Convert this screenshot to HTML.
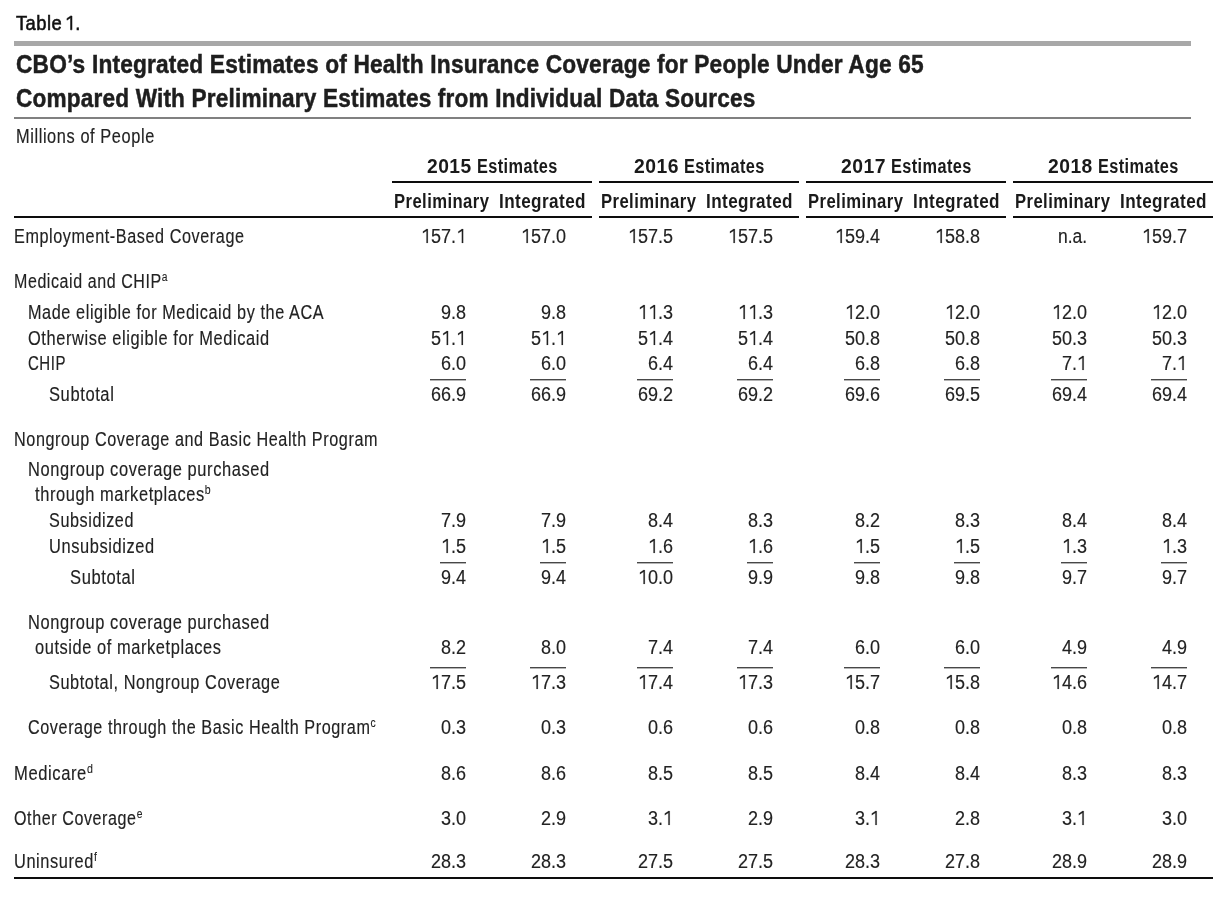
<!DOCTYPE html>
<html><head><meta charset="utf-8"><title>Table 1</title><style>
html,body{margin:0;padding:0;background:#fff;}
body{filter:grayscale(100%);}
body{width:1232px;height:897px;position:relative;overflow:hidden;}
.r{position:absolute;}
.t{position:absolute;white-space:nowrap;font-family:"Liberation Sans",sans-serif;line-height:normal;transform-origin:0 0;-webkit-text-stroke:0.15px;}
.lbl{font-size:21.0px;color:#111;font-weight:400;letter-spacing:0.5px;-webkit-text-stroke:0.6px;}
.ttl{font-size:26.0px;color:#1e1e1e;font-weight:700;letter-spacing:0.2px;-webkit-text-stroke:0.5px;}
.reg{font-size:19.5px;color:#222;font-weight:400;letter-spacing:0.7px;}
.hdr{font-size:20.0px;color:#1a1a1a;font-weight:700;letter-spacing:0.5px;-webkit-text-stroke:0.0px;}
.num{font-size:19.4px;color:#222;font-weight:400;letter-spacing:0px;}
.one{width:0.5562em;height:0.72em;vertical-align:0.02em;fill:currentColor;stroke:currentColor;overflow:visible;}
.sup{display:inline-block;font-size:12.5px;position:relative;top:-7px;margin-left:0px;-webkit-text-stroke:0.1px;letter-spacing:0;transform:scaleX(1.0);transform-origin:0 0;}
</style></head>
<body>
<div class="t lbl" style="left:15.96px;top:11.00px;transform:scaleX(0.8740)">Table</div>
<div class="t lbl" style="left:65.04px;top:11.00px;transform:scaleX(0.8734)"><svg class="one" style="height:0.66em;vertical-align:0.01em" viewBox="0 0 1139 1409" preserveAspectRatio="none"><path d="M620 1409V190L219 420V250L635 0H780V1409Z" stroke-width="58.5"/></svg>.</div>
<div class="r" style="left:14px;top:41px;width:1177px;height:5px;background:#a8a8a8"></div>
<div class="t ttl" style="left:15.94px;top:49.00px;transform:scaleX(0.8732)">CBO’s Integrated Estimates of Health Insurance Coverage for People Under Age 65</div>
<div class="t ttl" style="left:15.94px;top:83.00px;transform:scaleX(0.8694)">Compared With Preliminary Estimates from Individual Data Sources</div>
<div class="r" style="left:14px;top:117px;width:1177px;height:2px;background:#808080"></div>
<div class="t reg" style="left:15.66px;top:125.00px;transform:scaleX(0.8392)">Millions of People</div>
<div class="t hdr" style="left:427.03px;top:155.00px;transform:scaleX(0.9621)">2015</div>
<div class="t hdr" style="left:476.64px;top:155.00px;transform:scaleX(0.8154)">Estimates</div>
<div class="r" style="left:392px;top:181px;width:200px;height:2px;background:#0d0d0d"></div>
<div class="t hdr" style="left:394.42px;top:190.00px;transform:scaleX(0.8329)">Preliminary</div>
<div class="t hdr" style="left:498.59px;top:190.00px;transform:scaleX(0.8550)">Integrated</div>
<div class="t hdr" style="left:634.02px;top:155.00px;transform:scaleX(0.9664)">2016</div>
<div class="t hdr" style="left:683.64px;top:155.00px;transform:scaleX(0.8154)">Estimates</div>
<div class="r" style="left:599px;top:181px;width:200px;height:2px;background:#0d0d0d"></div>
<div class="t hdr" style="left:601.42px;top:190.00px;transform:scaleX(0.8329)">Preliminary</div>
<div class="t hdr" style="left:705.59px;top:190.00px;transform:scaleX(0.8550)">Integrated</div>
<div class="t hdr" style="left:841.02px;top:155.00px;transform:scaleX(0.9685)">2017</div>
<div class="t hdr" style="left:890.64px;top:155.00px;transform:scaleX(0.8154)">Estimates</div>
<div class="r" style="left:806px;top:181px;width:200px;height:2px;background:#0d0d0d"></div>
<div class="t hdr" style="left:808.42px;top:190.00px;transform:scaleX(0.8329)">Preliminary</div>
<div class="t hdr" style="left:912.59px;top:190.00px;transform:scaleX(0.8550)">Integrated</div>
<div class="t hdr" style="left:1048.03px;top:155.00px;transform:scaleX(0.9642)">2018</div>
<div class="t hdr" style="left:1097.64px;top:155.00px;transform:scaleX(0.8154)">Estimates</div>
<div class="r" style="left:1013px;top:181px;width:200px;height:2px;background:#0d0d0d"></div>
<div class="t hdr" style="left:1015.42px;top:190.00px;transform:scaleX(0.8329)">Preliminary</div>
<div class="t hdr" style="left:1119.59px;top:190.00px;transform:scaleX(0.8550)">Integrated</div>
<div class="r" style="left:14px;top:216px;width:578px;height:2px;background:#0d0d0d"></div>
<div class="r" style="left:599px;top:216px;width:200px;height:2px;background:#0d0d0d"></div>
<div class="r" style="left:806px;top:216px;width:200px;height:2px;background:#0d0d0d"></div>
<div class="r" style="left:1013px;top:216px;width:200px;height:2px;background:#0d0d0d"></div>
<div class="r" style="left:14px;top:877px;width:1199px;height:2px;background:#0d0d0d"></div>
<div class="t reg" style="left:13.87px;top:225.00px;transform:scaleX(0.8306)">Employment-Based Coverage</div>
<div class="t reg" style="left:13.79px;top:270.00px;transform:scaleX(0.8211)">Medicaid and CHIP<span class="sup">a</span></div>
<div class="t reg" style="left:27.77px;top:301.00px;transform:scaleX(0.8332)">Made eligible for Medicaid by the ACA</div>
<div class="t reg" style="left:28.34px;top:327.00px;transform:scaleX(0.8414)">Otherwise eligible for Medicaid</div>
<div class="t reg" style="left:28.33px;top:352.00px;transform:scaleX(0.7687)">CHIP</div>
<div class="t reg" style="left:49.04px;top:383.00px;transform:scaleX(0.8477)">Subtotal</div>
<div class="t reg" style="left:13.77px;top:428.00px;transform:scaleX(0.8311)">Nongroup Coverage and Basic Health Program</div>
<div class="t reg" style="left:27.75px;top:458.00px;transform:scaleX(0.8432)">Nongroup coverage purchased</div>
<div class="t reg" style="left:35.15px;top:483.00px;transform:scaleX(0.8429)">through marketplaces<span class="sup">b</span></div>
<div class="t reg" style="left:49.05px;top:509.00px;transform:scaleX(0.8303)">Subsidized</div>
<div class="t reg" style="left:48.64px;top:535.00px;transform:scaleX(0.8418)">Unsubsidized</div>
<div class="t reg" style="left:70.04px;top:566.00px;transform:scaleX(0.8491)">Subtotal</div>
<div class="t reg" style="left:27.75px;top:611.00px;transform:scaleX(0.8432)">Nongroup coverage purchased</div>
<div class="t reg" style="left:35.33px;top:636.00px;transform:scaleX(0.8404)">outside of marketplaces</div>
<div class="t reg" style="left:49.05px;top:671.00px;transform:scaleX(0.8357)">Subtotal, Nongroup Coverage</div>
<div class="t reg" style="left:28.27px;top:716.00px;transform:scaleX(0.8305)">Coverage through the Basic Health Program<span class="sup">c</span></div>
<div class="t reg" style="left:13.74px;top:762.00px;transform:scaleX(0.8501)">Medicare<span class="sup">d</span></div>
<div class="t reg" style="left:14.36px;top:807.00px;transform:scaleX(0.8255)">Other Coverage<span class="sup">e</span></div>
<div class="t reg" style="left:13.84px;top:850.00px;transform:scaleX(0.8397)">Uninsured<span class="sup">f</span></div>
<div class="t num" style="left:420.64px;top:225.00px;transform:scaleX(0.9300)"><svg class="one" style="height:0.72em;vertical-align:0.02em" viewBox="0 0 1139 1409" preserveAspectRatio="none"><path d="M620 1409V190L219 420V250L635 0H780V1409Z" stroke-width="15.8"/></svg>57.<svg class="one" style="height:0.72em;vertical-align:0.02em" viewBox="0 0 1139 1409" preserveAspectRatio="none"><path d="M620 1409V190L219 420V250L635 0H780V1409Z" stroke-width="15.8"/></svg></div>
<div class="t num" style="left:520.64px;top:225.00px;transform:scaleX(0.9300)"><svg class="one" style="height:0.72em;vertical-align:0.02em" viewBox="0 0 1139 1409" preserveAspectRatio="none"><path d="M620 1409V190L219 420V250L635 0H780V1409Z" stroke-width="15.8"/></svg>57.0</div>
<div class="t num" style="left:627.64px;top:225.00px;transform:scaleX(0.9300)"><svg class="one" style="height:0.72em;vertical-align:0.02em" viewBox="0 0 1139 1409" preserveAspectRatio="none"><path d="M620 1409V190L219 420V250L635 0H780V1409Z" stroke-width="15.8"/></svg>57.5</div>
<div class="t num" style="left:727.64px;top:225.00px;transform:scaleX(0.9300)"><svg class="one" style="height:0.72em;vertical-align:0.02em" viewBox="0 0 1139 1409" preserveAspectRatio="none"><path d="M620 1409V190L219 420V250L635 0H780V1409Z" stroke-width="15.8"/></svg>57.5</div>
<div class="t num" style="left:834.64px;top:225.00px;transform:scaleX(0.9300)"><svg class="one" style="height:0.72em;vertical-align:0.02em" viewBox="0 0 1139 1409" preserveAspectRatio="none"><path d="M620 1409V190L219 420V250L635 0H780V1409Z" stroke-width="15.8"/></svg>59.4</div>
<div class="t num" style="left:934.64px;top:225.00px;transform:scaleX(0.9300)"><svg class="one" style="height:0.72em;vertical-align:0.02em" viewBox="0 0 1139 1409" preserveAspectRatio="none"><path d="M620 1409V190L219 420V250L635 0H780V1409Z" stroke-width="15.8"/></svg>58.8</div>
<div class="t num" style="left:1057.73px;top:225.00px;transform:scaleX(0.9010)">n.a.</div>
<div class="t num" style="left:1141.64px;top:225.00px;transform:scaleX(0.9300)"><svg class="one" style="height:0.72em;vertical-align:0.02em" viewBox="0 0 1139 1409" preserveAspectRatio="none"><path d="M620 1409V190L219 420V250L635 0H780V1409Z" stroke-width="15.8"/></svg>59.7</div>
<div class="t num" style="left:440.71px;top:301.00px;transform:scaleX(0.9300)">9.8</div>
<div class="t num" style="left:540.71px;top:301.00px;transform:scaleX(0.9300)">9.8</div>
<div class="t num" style="left:637.67px;top:301.00px;transform:scaleX(0.9300)"><svg class="one" style="height:0.72em;vertical-align:0.02em" viewBox="0 0 1139 1409" preserveAspectRatio="none"><path d="M620 1409V190L219 420V250L635 0H780V1409Z" stroke-width="15.8"/></svg><svg class="one" style="height:0.72em;vertical-align:0.02em" viewBox="0 0 1139 1409" preserveAspectRatio="none"><path d="M620 1409V190L219 420V250L635 0H780V1409Z" stroke-width="15.8"/></svg>.3</div>
<div class="t num" style="left:737.67px;top:301.00px;transform:scaleX(0.9300)"><svg class="one" style="height:0.72em;vertical-align:0.02em" viewBox="0 0 1139 1409" preserveAspectRatio="none"><path d="M620 1409V190L219 420V250L635 0H780V1409Z" stroke-width="15.8"/></svg><svg class="one" style="height:0.72em;vertical-align:0.02em" viewBox="0 0 1139 1409" preserveAspectRatio="none"><path d="M620 1409V190L219 420V250L635 0H780V1409Z" stroke-width="15.8"/></svg>.3</div>
<div class="t num" style="left:844.67px;top:301.00px;transform:scaleX(0.9300)"><svg class="one" style="height:0.72em;vertical-align:0.02em" viewBox="0 0 1139 1409" preserveAspectRatio="none"><path d="M620 1409V190L219 420V250L635 0H780V1409Z" stroke-width="15.8"/></svg>2.0</div>
<div class="t num" style="left:944.67px;top:301.00px;transform:scaleX(0.9300)"><svg class="one" style="height:0.72em;vertical-align:0.02em" viewBox="0 0 1139 1409" preserveAspectRatio="none"><path d="M620 1409V190L219 420V250L635 0H780V1409Z" stroke-width="15.8"/></svg>2.0</div>
<div class="t num" style="left:1051.67px;top:301.00px;transform:scaleX(0.9300)"><svg class="one" style="height:0.72em;vertical-align:0.02em" viewBox="0 0 1139 1409" preserveAspectRatio="none"><path d="M620 1409V190L219 420V250L635 0H780V1409Z" stroke-width="15.8"/></svg>2.0</div>
<div class="t num" style="left:1151.67px;top:301.00px;transform:scaleX(0.9300)"><svg class="one" style="height:0.72em;vertical-align:0.02em" viewBox="0 0 1139 1409" preserveAspectRatio="none"><path d="M620 1409V190L219 420V250L635 0H780V1409Z" stroke-width="15.8"/></svg>2.0</div>
<div class="t num" style="left:430.67px;top:327.00px;transform:scaleX(0.9300)">5<svg class="one" style="height:0.72em;vertical-align:0.02em" viewBox="0 0 1139 1409" preserveAspectRatio="none"><path d="M620 1409V190L219 420V250L635 0H780V1409Z" stroke-width="15.8"/></svg>.<svg class="one" style="height:0.72em;vertical-align:0.02em" viewBox="0 0 1139 1409" preserveAspectRatio="none"><path d="M620 1409V190L219 420V250L635 0H780V1409Z" stroke-width="15.8"/></svg></div>
<div class="t num" style="left:530.67px;top:327.00px;transform:scaleX(0.9300)">5<svg class="one" style="height:0.72em;vertical-align:0.02em" viewBox="0 0 1139 1409" preserveAspectRatio="none"><path d="M620 1409V190L219 420V250L635 0H780V1409Z" stroke-width="15.8"/></svg>.<svg class="one" style="height:0.72em;vertical-align:0.02em" viewBox="0 0 1139 1409" preserveAspectRatio="none"><path d="M620 1409V190L219 420V250L635 0H780V1409Z" stroke-width="15.8"/></svg></div>
<div class="t num" style="left:637.67px;top:327.00px;transform:scaleX(0.9300)">5<svg class="one" style="height:0.72em;vertical-align:0.02em" viewBox="0 0 1139 1409" preserveAspectRatio="none"><path d="M620 1409V190L219 420V250L635 0H780V1409Z" stroke-width="15.8"/></svg>.4</div>
<div class="t num" style="left:737.67px;top:327.00px;transform:scaleX(0.9300)">5<svg class="one" style="height:0.72em;vertical-align:0.02em" viewBox="0 0 1139 1409" preserveAspectRatio="none"><path d="M620 1409V190L219 420V250L635 0H780V1409Z" stroke-width="15.8"/></svg>.4</div>
<div class="t num" style="left:844.67px;top:327.00px;transform:scaleX(0.9300)">50.8</div>
<div class="t num" style="left:944.67px;top:327.00px;transform:scaleX(0.9300)">50.8</div>
<div class="t num" style="left:1051.67px;top:327.00px;transform:scaleX(0.9300)">50.3</div>
<div class="t num" style="left:1151.67px;top:327.00px;transform:scaleX(0.9300)">50.3</div>
<div class="t num" style="left:440.71px;top:352.00px;transform:scaleX(0.9300)">6.0</div>
<div class="t num" style="left:540.71px;top:352.00px;transform:scaleX(0.9300)">6.0</div>
<div class="t num" style="left:647.71px;top:352.00px;transform:scaleX(0.9300)">6.4</div>
<div class="t num" style="left:747.71px;top:352.00px;transform:scaleX(0.9300)">6.4</div>
<div class="t num" style="left:854.71px;top:352.00px;transform:scaleX(0.9300)">6.8</div>
<div class="t num" style="left:954.71px;top:352.00px;transform:scaleX(0.9300)">6.8</div>
<div class="t num" style="left:1061.71px;top:352.00px;transform:scaleX(0.9300)">7.<svg class="one" style="height:0.72em;vertical-align:0.02em" viewBox="0 0 1139 1409" preserveAspectRatio="none"><path d="M620 1409V190L219 420V250L635 0H780V1409Z" stroke-width="15.8"/></svg></div>
<div class="t num" style="left:1161.71px;top:352.00px;transform:scaleX(0.9300)">7.<svg class="one" style="height:0.72em;vertical-align:0.02em" viewBox="0 0 1139 1409" preserveAspectRatio="none"><path d="M620 1409V190L219 420V250L635 0H780V1409Z" stroke-width="15.8"/></svg></div>
<div class="t num" style="left:430.67px;top:383.00px;transform:scaleX(0.9300)">66.9</div>
<div class="r" style="left:429.90px;top:379px;width:36.50px;height:1px;background:#484848"></div>
<div class="r" style="left:429.90px;top:380px;width:36.50px;height:1px;background:#b4b4b4"></div>
<div class="t num" style="left:530.67px;top:383.00px;transform:scaleX(0.9300)">66.9</div>
<div class="r" style="left:529.90px;top:379px;width:36.50px;height:1px;background:#484848"></div>
<div class="r" style="left:529.90px;top:380px;width:36.50px;height:1px;background:#b4b4b4"></div>
<div class="t num" style="left:637.67px;top:383.00px;transform:scaleX(0.9300)">69.2</div>
<div class="r" style="left:636.90px;top:379px;width:36.50px;height:1px;background:#484848"></div>
<div class="r" style="left:636.90px;top:380px;width:36.50px;height:1px;background:#b4b4b4"></div>
<div class="t num" style="left:737.67px;top:383.00px;transform:scaleX(0.9300)">69.2</div>
<div class="r" style="left:736.90px;top:379px;width:36.50px;height:1px;background:#484848"></div>
<div class="r" style="left:736.90px;top:380px;width:36.50px;height:1px;background:#b4b4b4"></div>
<div class="t num" style="left:844.67px;top:383.00px;transform:scaleX(0.9300)">69.6</div>
<div class="r" style="left:843.90px;top:379px;width:36.50px;height:1px;background:#484848"></div>
<div class="r" style="left:843.90px;top:380px;width:36.50px;height:1px;background:#b4b4b4"></div>
<div class="t num" style="left:944.67px;top:383.00px;transform:scaleX(0.9300)">69.5</div>
<div class="r" style="left:943.90px;top:379px;width:36.50px;height:1px;background:#484848"></div>
<div class="r" style="left:943.90px;top:380px;width:36.50px;height:1px;background:#b4b4b4"></div>
<div class="t num" style="left:1051.67px;top:383.00px;transform:scaleX(0.9300)">69.4</div>
<div class="r" style="left:1050.90px;top:379px;width:36.50px;height:1px;background:#484848"></div>
<div class="r" style="left:1050.90px;top:380px;width:36.50px;height:1px;background:#b4b4b4"></div>
<div class="t num" style="left:1151.67px;top:383.00px;transform:scaleX(0.9300)">69.4</div>
<div class="r" style="left:1150.90px;top:379px;width:36.50px;height:1px;background:#484848"></div>
<div class="r" style="left:1150.90px;top:380px;width:36.50px;height:1px;background:#b4b4b4"></div>
<div class="t num" style="left:440.71px;top:509.00px;transform:scaleX(0.9300)">7.9</div>
<div class="t num" style="left:540.71px;top:509.00px;transform:scaleX(0.9300)">7.9</div>
<div class="t num" style="left:647.71px;top:509.00px;transform:scaleX(0.9300)">8.4</div>
<div class="t num" style="left:747.71px;top:509.00px;transform:scaleX(0.9300)">8.3</div>
<div class="t num" style="left:854.71px;top:509.00px;transform:scaleX(0.9300)">8.2</div>
<div class="t num" style="left:954.71px;top:509.00px;transform:scaleX(0.9300)">8.3</div>
<div class="t num" style="left:1061.71px;top:509.00px;transform:scaleX(0.9300)">8.4</div>
<div class="t num" style="left:1161.71px;top:509.00px;transform:scaleX(0.9300)">8.4</div>
<div class="t num" style="left:440.71px;top:535.00px;transform:scaleX(0.9300)"><svg class="one" style="height:0.72em;vertical-align:0.02em" viewBox="0 0 1139 1409" preserveAspectRatio="none"><path d="M620 1409V190L219 420V250L635 0H780V1409Z" stroke-width="15.8"/></svg>.5</div>
<div class="t num" style="left:540.71px;top:535.00px;transform:scaleX(0.9300)"><svg class="one" style="height:0.72em;vertical-align:0.02em" viewBox="0 0 1139 1409" preserveAspectRatio="none"><path d="M620 1409V190L219 420V250L635 0H780V1409Z" stroke-width="15.8"/></svg>.5</div>
<div class="t num" style="left:647.71px;top:535.00px;transform:scaleX(0.9300)"><svg class="one" style="height:0.72em;vertical-align:0.02em" viewBox="0 0 1139 1409" preserveAspectRatio="none"><path d="M620 1409V190L219 420V250L635 0H780V1409Z" stroke-width="15.8"/></svg>.6</div>
<div class="t num" style="left:747.71px;top:535.00px;transform:scaleX(0.9300)"><svg class="one" style="height:0.72em;vertical-align:0.02em" viewBox="0 0 1139 1409" preserveAspectRatio="none"><path d="M620 1409V190L219 420V250L635 0H780V1409Z" stroke-width="15.8"/></svg>.6</div>
<div class="t num" style="left:854.71px;top:535.00px;transform:scaleX(0.9300)"><svg class="one" style="height:0.72em;vertical-align:0.02em" viewBox="0 0 1139 1409" preserveAspectRatio="none"><path d="M620 1409V190L219 420V250L635 0H780V1409Z" stroke-width="15.8"/></svg>.5</div>
<div class="t num" style="left:954.71px;top:535.00px;transform:scaleX(0.9300)"><svg class="one" style="height:0.72em;vertical-align:0.02em" viewBox="0 0 1139 1409" preserveAspectRatio="none"><path d="M620 1409V190L219 420V250L635 0H780V1409Z" stroke-width="15.8"/></svg>.5</div>
<div class="t num" style="left:1061.71px;top:535.00px;transform:scaleX(0.9300)"><svg class="one" style="height:0.72em;vertical-align:0.02em" viewBox="0 0 1139 1409" preserveAspectRatio="none"><path d="M620 1409V190L219 420V250L635 0H780V1409Z" stroke-width="15.8"/></svg>.3</div>
<div class="t num" style="left:1161.71px;top:535.00px;transform:scaleX(0.9300)"><svg class="one" style="height:0.72em;vertical-align:0.02em" viewBox="0 0 1139 1409" preserveAspectRatio="none"><path d="M620 1409V190L219 420V250L635 0H780V1409Z" stroke-width="15.8"/></svg>.3</div>
<div class="t num" style="left:440.71px;top:566.00px;transform:scaleX(0.9300)">9.4</div>
<div class="r" style="left:440.40px;top:562px;width:26.00px;height:1px;background:#484848"></div>
<div class="r" style="left:440.40px;top:563px;width:26.00px;height:1px;background:#b4b4b4"></div>
<div class="t num" style="left:540.71px;top:566.00px;transform:scaleX(0.9300)">9.4</div>
<div class="r" style="left:540.40px;top:562px;width:26.00px;height:1px;background:#484848"></div>
<div class="r" style="left:540.40px;top:563px;width:26.00px;height:1px;background:#b4b4b4"></div>
<div class="t num" style="left:637.67px;top:566.00px;transform:scaleX(0.9300)"><svg class="one" style="height:0.72em;vertical-align:0.02em" viewBox="0 0 1139 1409" preserveAspectRatio="none"><path d="M620 1409V190L219 420V250L635 0H780V1409Z" stroke-width="15.8"/></svg>0.0</div>
<div class="r" style="left:636.90px;top:562px;width:36.50px;height:1px;background:#484848"></div>
<div class="r" style="left:636.90px;top:563px;width:36.50px;height:1px;background:#b4b4b4"></div>
<div class="t num" style="left:747.71px;top:566.00px;transform:scaleX(0.9300)">9.9</div>
<div class="r" style="left:747.40px;top:562px;width:26.00px;height:1px;background:#484848"></div>
<div class="r" style="left:747.40px;top:563px;width:26.00px;height:1px;background:#b4b4b4"></div>
<div class="t num" style="left:854.71px;top:566.00px;transform:scaleX(0.9300)">9.8</div>
<div class="r" style="left:854.40px;top:562px;width:26.00px;height:1px;background:#484848"></div>
<div class="r" style="left:854.40px;top:563px;width:26.00px;height:1px;background:#b4b4b4"></div>
<div class="t num" style="left:954.71px;top:566.00px;transform:scaleX(0.9300)">9.8</div>
<div class="r" style="left:954.40px;top:562px;width:26.00px;height:1px;background:#484848"></div>
<div class="r" style="left:954.40px;top:563px;width:26.00px;height:1px;background:#b4b4b4"></div>
<div class="t num" style="left:1061.71px;top:566.00px;transform:scaleX(0.9300)">9.7</div>
<div class="r" style="left:1061.40px;top:562px;width:26.00px;height:1px;background:#484848"></div>
<div class="r" style="left:1061.40px;top:563px;width:26.00px;height:1px;background:#b4b4b4"></div>
<div class="t num" style="left:1161.71px;top:566.00px;transform:scaleX(0.9300)">9.7</div>
<div class="r" style="left:1161.40px;top:562px;width:26.00px;height:1px;background:#484848"></div>
<div class="r" style="left:1161.40px;top:563px;width:26.00px;height:1px;background:#b4b4b4"></div>
<div class="t num" style="left:440.71px;top:636.00px;transform:scaleX(0.9300)">8.2</div>
<div class="t num" style="left:540.71px;top:636.00px;transform:scaleX(0.9300)">8.0</div>
<div class="t num" style="left:647.71px;top:636.00px;transform:scaleX(0.9300)">7.4</div>
<div class="t num" style="left:747.71px;top:636.00px;transform:scaleX(0.9300)">7.4</div>
<div class="t num" style="left:854.71px;top:636.00px;transform:scaleX(0.9300)">6.0</div>
<div class="t num" style="left:954.71px;top:636.00px;transform:scaleX(0.9300)">6.0</div>
<div class="t num" style="left:1061.71px;top:636.00px;transform:scaleX(0.9300)">4.9</div>
<div class="t num" style="left:1161.71px;top:636.00px;transform:scaleX(0.9300)">4.9</div>
<div class="t num" style="left:430.67px;top:671.00px;transform:scaleX(0.9300)"><svg class="one" style="height:0.72em;vertical-align:0.02em" viewBox="0 0 1139 1409" preserveAspectRatio="none"><path d="M620 1409V190L219 420V250L635 0H780V1409Z" stroke-width="15.8"/></svg>7.5</div>
<div class="r" style="left:429.90px;top:667px;width:36.50px;height:1px;background:#484848"></div>
<div class="r" style="left:429.90px;top:668px;width:36.50px;height:1px;background:#b4b4b4"></div>
<div class="t num" style="left:530.67px;top:671.00px;transform:scaleX(0.9300)"><svg class="one" style="height:0.72em;vertical-align:0.02em" viewBox="0 0 1139 1409" preserveAspectRatio="none"><path d="M620 1409V190L219 420V250L635 0H780V1409Z" stroke-width="15.8"/></svg>7.3</div>
<div class="r" style="left:529.90px;top:667px;width:36.50px;height:1px;background:#484848"></div>
<div class="r" style="left:529.90px;top:668px;width:36.50px;height:1px;background:#b4b4b4"></div>
<div class="t num" style="left:637.67px;top:671.00px;transform:scaleX(0.9300)"><svg class="one" style="height:0.72em;vertical-align:0.02em" viewBox="0 0 1139 1409" preserveAspectRatio="none"><path d="M620 1409V190L219 420V250L635 0H780V1409Z" stroke-width="15.8"/></svg>7.4</div>
<div class="r" style="left:636.90px;top:667px;width:36.50px;height:1px;background:#484848"></div>
<div class="r" style="left:636.90px;top:668px;width:36.50px;height:1px;background:#b4b4b4"></div>
<div class="t num" style="left:737.67px;top:671.00px;transform:scaleX(0.9300)"><svg class="one" style="height:0.72em;vertical-align:0.02em" viewBox="0 0 1139 1409" preserveAspectRatio="none"><path d="M620 1409V190L219 420V250L635 0H780V1409Z" stroke-width="15.8"/></svg>7.3</div>
<div class="r" style="left:736.90px;top:667px;width:36.50px;height:1px;background:#484848"></div>
<div class="r" style="left:736.90px;top:668px;width:36.50px;height:1px;background:#b4b4b4"></div>
<div class="t num" style="left:844.67px;top:671.00px;transform:scaleX(0.9300)"><svg class="one" style="height:0.72em;vertical-align:0.02em" viewBox="0 0 1139 1409" preserveAspectRatio="none"><path d="M620 1409V190L219 420V250L635 0H780V1409Z" stroke-width="15.8"/></svg>5.7</div>
<div class="r" style="left:843.90px;top:667px;width:36.50px;height:1px;background:#484848"></div>
<div class="r" style="left:843.90px;top:668px;width:36.50px;height:1px;background:#b4b4b4"></div>
<div class="t num" style="left:944.67px;top:671.00px;transform:scaleX(0.9300)"><svg class="one" style="height:0.72em;vertical-align:0.02em" viewBox="0 0 1139 1409" preserveAspectRatio="none"><path d="M620 1409V190L219 420V250L635 0H780V1409Z" stroke-width="15.8"/></svg>5.8</div>
<div class="r" style="left:943.90px;top:667px;width:36.50px;height:1px;background:#484848"></div>
<div class="r" style="left:943.90px;top:668px;width:36.50px;height:1px;background:#b4b4b4"></div>
<div class="t num" style="left:1051.67px;top:671.00px;transform:scaleX(0.9300)"><svg class="one" style="height:0.72em;vertical-align:0.02em" viewBox="0 0 1139 1409" preserveAspectRatio="none"><path d="M620 1409V190L219 420V250L635 0H780V1409Z" stroke-width="15.8"/></svg>4.6</div>
<div class="r" style="left:1050.90px;top:667px;width:36.50px;height:1px;background:#484848"></div>
<div class="r" style="left:1050.90px;top:668px;width:36.50px;height:1px;background:#b4b4b4"></div>
<div class="t num" style="left:1151.67px;top:671.00px;transform:scaleX(0.9300)"><svg class="one" style="height:0.72em;vertical-align:0.02em" viewBox="0 0 1139 1409" preserveAspectRatio="none"><path d="M620 1409V190L219 420V250L635 0H780V1409Z" stroke-width="15.8"/></svg>4.7</div>
<div class="r" style="left:1150.90px;top:667px;width:36.50px;height:1px;background:#484848"></div>
<div class="r" style="left:1150.90px;top:668px;width:36.50px;height:1px;background:#b4b4b4"></div>
<div class="t num" style="left:440.71px;top:716.00px;transform:scaleX(0.9300)">0.3</div>
<div class="t num" style="left:540.71px;top:716.00px;transform:scaleX(0.9300)">0.3</div>
<div class="t num" style="left:647.71px;top:716.00px;transform:scaleX(0.9300)">0.6</div>
<div class="t num" style="left:747.71px;top:716.00px;transform:scaleX(0.9300)">0.6</div>
<div class="t num" style="left:854.71px;top:716.00px;transform:scaleX(0.9300)">0.8</div>
<div class="t num" style="left:954.71px;top:716.00px;transform:scaleX(0.9300)">0.8</div>
<div class="t num" style="left:1061.71px;top:716.00px;transform:scaleX(0.9300)">0.8</div>
<div class="t num" style="left:1161.71px;top:716.00px;transform:scaleX(0.9300)">0.8</div>
<div class="t num" style="left:440.71px;top:762.00px;transform:scaleX(0.9300)">8.6</div>
<div class="t num" style="left:540.71px;top:762.00px;transform:scaleX(0.9300)">8.6</div>
<div class="t num" style="left:647.71px;top:762.00px;transform:scaleX(0.9300)">8.5</div>
<div class="t num" style="left:747.71px;top:762.00px;transform:scaleX(0.9300)">8.5</div>
<div class="t num" style="left:854.71px;top:762.00px;transform:scaleX(0.9300)">8.4</div>
<div class="t num" style="left:954.71px;top:762.00px;transform:scaleX(0.9300)">8.4</div>
<div class="t num" style="left:1061.71px;top:762.00px;transform:scaleX(0.9300)">8.3</div>
<div class="t num" style="left:1161.71px;top:762.00px;transform:scaleX(0.9300)">8.3</div>
<div class="t num" style="left:440.71px;top:807.00px;transform:scaleX(0.9300)">3.0</div>
<div class="t num" style="left:540.71px;top:807.00px;transform:scaleX(0.9300)">2.9</div>
<div class="t num" style="left:647.71px;top:807.00px;transform:scaleX(0.9300)">3.<svg class="one" style="height:0.72em;vertical-align:0.02em" viewBox="0 0 1139 1409" preserveAspectRatio="none"><path d="M620 1409V190L219 420V250L635 0H780V1409Z" stroke-width="15.8"/></svg></div>
<div class="t num" style="left:747.71px;top:807.00px;transform:scaleX(0.9300)">2.9</div>
<div class="t num" style="left:854.71px;top:807.00px;transform:scaleX(0.9300)">3.<svg class="one" style="height:0.72em;vertical-align:0.02em" viewBox="0 0 1139 1409" preserveAspectRatio="none"><path d="M620 1409V190L219 420V250L635 0H780V1409Z" stroke-width="15.8"/></svg></div>
<div class="t num" style="left:954.71px;top:807.00px;transform:scaleX(0.9300)">2.8</div>
<div class="t num" style="left:1061.71px;top:807.00px;transform:scaleX(0.9300)">3.<svg class="one" style="height:0.72em;vertical-align:0.02em" viewBox="0 0 1139 1409" preserveAspectRatio="none"><path d="M620 1409V190L219 420V250L635 0H780V1409Z" stroke-width="15.8"/></svg></div>
<div class="t num" style="left:1161.71px;top:807.00px;transform:scaleX(0.9300)">3.0</div>
<div class="t num" style="left:430.67px;top:850.00px;transform:scaleX(0.9300)">28.3</div>
<div class="t num" style="left:530.67px;top:850.00px;transform:scaleX(0.9300)">28.3</div>
<div class="t num" style="left:637.67px;top:850.00px;transform:scaleX(0.9300)">27.5</div>
<div class="t num" style="left:737.67px;top:850.00px;transform:scaleX(0.9300)">27.5</div>
<div class="t num" style="left:844.67px;top:850.00px;transform:scaleX(0.9300)">28.3</div>
<div class="t num" style="left:944.67px;top:850.00px;transform:scaleX(0.9300)">27.8</div>
<div class="t num" style="left:1051.67px;top:850.00px;transform:scaleX(0.9300)">28.9</div>
<div class="t num" style="left:1151.67px;top:850.00px;transform:scaleX(0.9300)">28.9</div>
</body></html>
